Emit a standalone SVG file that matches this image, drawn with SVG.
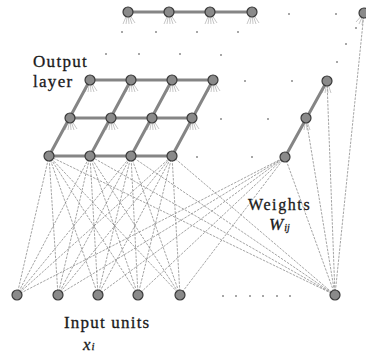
<svg xmlns="http://www.w3.org/2000/svg" width="366" height="354" viewBox="0 0 366 354">
<defs>
<style>
.bar{stroke:#858585;stroke-width:3;fill:none;stroke-linecap:round}
.w{stroke:#7c7c7c;stroke-width:0.7;stroke-dasharray:2.5 1.2;fill:none}
.fan{stroke:#a0a0a0;stroke-width:0.6;fill:none}
.n{fill:#8a8a8a;stroke:#3a3a3a;stroke-width:1.2}
.d{fill:#8a8a8a}
</style>
</defs>
<rect width="366" height="354" fill="#fff"/>
<g id="connectors">
<g class="w">
<path d="M17 295L49 156M17 295L90 156M17 295L131 156M17 295L172 156M17 295L285 157"/>
<path d="M58 295L49 156M58 295L90 156M58 295L131 156M58 295L172 156M58 295L285 157"/>
<path d="M98 295L49 156M98 295L90 156M98 295L131 156M98 295L172 156M98 295L285 157"/>
<path d="M138 295L49 156M138 295L90 156M138 295L131 156M138 295L172 156M138 295L285 157"/>
<path d="M180 295L49 156M180 295L90 156M180 295L131 156M180 295L172 156M180 295L285 157"/>
<path d="M335 295L49 156M335 295L90 156M335 295L131 156M335 295L172 156M335 295L285 157"/>
<path d="M335 295L306 118M335 295L327 81M335 295L364 13"/>
</g>
<g class="fan">
<path d="M70 118l-5 12M70 118l-2 12M70 118l1 12M70 118l4 12M70 118l7 11"/>
<path d="M111 118l-5 12M111 118l-2 12M111 118l1 12M111 118l4 12M111 118l7 11"/>
<path d="M152 118l-5 12M152 118l-2 12M152 118l1 12M152 118l4 12M152 118l7 11"/>
<path d="M192 118l-5 12M192 118l-2 12M192 118l1 12M192 118l4 12M192 118l7 11"/>
<path d="M306 118l-5 12M306 118l-2 12M306 118l1 12M306 118l4 12"/>
<path d="M90 80l-5 12M90 80l-2 12M90 80l1 12M90 80l4 12M90 80l7 11"/>
<path d="M131 80l-5 12M131 80l-2 12M131 80l1 12M131 80l4 12M131 80l7 11"/>
<path d="M172 80l-5 12M172 80l-2 12M172 80l1 12M172 80l4 12M172 80l7 11"/>
<path d="M213 80l-5 12M213 80l-2 12M213 80l1 12M213 80l4 12M213 80l7 11"/>
<path d="M327 81l-5 12M327 81l-2 12M327 81l1 12M327 81l4 12"/>
<path d="M128 12l-5 12M128 12l-2 12M128 12l1 12M128 12l4 12M128 12l7 11"/>
<path d="M169 12l-5 12M169 12l-2 12M169 12l1 12M169 12l4 12M169 12l7 11"/>
<path d="M210 12l-5 12M210 12l-2 12M210 12l1 12M210 12l4 12M210 12l7 11"/>
<path d="M252 12l-5 12M252 12l-2 12M252 12l1 12M252 12l4 12M252 12l7 11"/>
<path d="M364 13l-8 9M364 13l-5 11M364 13l-2 12"/>
</g>
<g class="bar">
<path d="M49 156H172M70 118H192M90 80H213M128 12H252"/>
<path d="M49 156L90 80M90 156L131 80M131 156L172 80M172 156L213 80M285 157L327 81"/>
</g>
</g>
<g id="dots">
<circle class="d" cx="289" cy="14" r="1"/><circle class="d" cx="336" cy="14" r="1"/>
<circle class="d" cx="356" cy="28" r="1"/><circle class="d" cx="346" cy="44" r="1"/><circle class="d" cx="337" cy="62" r="1"/>
<circle class="d" cx="122" cy="32" r="1"/><circle class="d" cx="156" cy="32" r="1"/><circle class="d" cx="197" cy="32" r="1"/><circle class="d" cx="238" cy="32" r="1"/>
<circle class="d" cx="106" cy="54" r="1"/><circle class="d" cx="139" cy="54" r="1"/><circle class="d" cx="180" cy="54" r="1"/><circle class="d" cx="221" cy="55" r="1"/>
<circle class="d" cx="245" cy="81" r="1"/><circle class="d" cx="292" cy="81" r="1"/>
<circle class="d" cx="221" cy="119" r="1"/><circle class="d" cx="268" cy="119" r="1"/>
<circle class="d" cx="197" cy="157" r="1"/><circle class="d" cx="252" cy="157" r="1"/>
<circle class="d" cx="223" cy="296" r="1"/><circle class="d" cx="236" cy="296" r="1"/><circle class="d" cx="250" cy="296" r="1"/><circle class="d" cx="263" cy="296" r="1"/><circle class="d" cx="277" cy="296" r="1"/><circle class="d" cx="290" cy="296" r="1"/>
</g>
<g id="in1"><circle class="n" cx="17" cy="295" r="5"/></g>
<g id="in2"><circle class="n" cx="58" cy="295" r="5"/></g>
<g id="in3"><circle class="n" cx="98" cy="295" r="5"/></g>
<g id="in4"><circle class="n" cx="138" cy="295" r="5"/></g>
<g id="in5"><circle class="n" cx="180" cy="295" r="5"/></g>
<g id="in6"><circle class="n" cx="335" cy="295" r="5"/></g>
<g id="o11"><circle class="n" cx="49" cy="156" r="5"/></g>
<g id="o12"><circle class="n" cx="90" cy="156" r="5"/></g>
<g id="o13"><circle class="n" cx="131" cy="156" r="5"/></g>
<g id="o14"><circle class="n" cx="172" cy="156" r="5"/></g>
<g id="o15"><circle class="n" cx="285" cy="157" r="5"/></g>
<g id="o21"><circle class="n" cx="70" cy="118" r="5"/></g>
<g id="o22"><circle class="n" cx="111" cy="118" r="5"/></g>
<g id="o23"><circle class="n" cx="152" cy="118" r="5"/></g>
<g id="o24"><circle class="n" cx="192" cy="118" r="5"/></g>
<g id="o25"><circle class="n" cx="306" cy="118" r="5"/></g>
<g id="o31"><circle class="n" cx="90" cy="80" r="5"/></g>
<g id="o32"><circle class="n" cx="131" cy="80" r="5"/></g>
<g id="o33"><circle class="n" cx="172" cy="80" r="5"/></g>
<g id="o34"><circle class="n" cx="213" cy="80" r="5"/></g>
<g id="o35"><circle class="n" cx="327" cy="81" r="5"/></g>
<g id="o41"><circle class="n" cx="128" cy="12" r="5"/></g>
<g id="o42"><circle class="n" cx="169" cy="12" r="5"/></g>
<g id="o43"><circle class="n" cx="210" cy="12" r="5"/></g>
<g id="o44"><circle class="n" cx="252" cy="12" r="5"/></g>
<g id="o45"><circle class="n" cx="364" cy="13" r="5"/></g>
<g id="labels" font-family="'Liberation Serif', 'DejaVu Serif', serif" fill="#1a1a1a" stroke="#1a1a1a" stroke-width="0.3">
<text x="33" y="67" font-size="17" letter-spacing="1.3">Output</text>
<text x="33" y="87" font-size="17" letter-spacing="1.3">layer</text>
<text x="248" y="210" font-size="16" letter-spacing="1.6">Weights</text>
<text x="269" y="230" font-size="17" font-style="italic">W<tspan font-size="10" dx="1" dy="1">ij</tspan></text>
<text x="64" y="328" font-size="17" letter-spacing="1.2">Input units</text>
<text x="83" y="350" font-size="17" font-style="italic">x<tspan font-size="11" dx="1">i</tspan></text>
</g>
</svg>
